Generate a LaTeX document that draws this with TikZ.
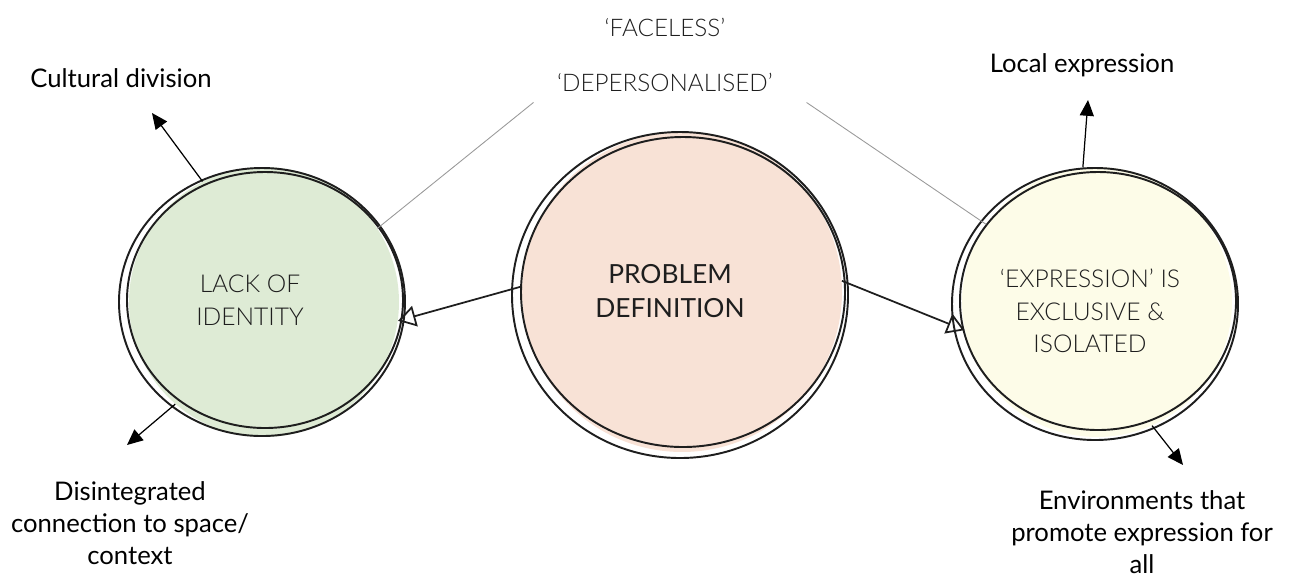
\documentclass[tikz,border=0pt]{standalone}
\usepackage{fontspec}
\setmainfont{Lato}
\newfontfamily\thinfont{Lato Light}[Ligatures=TeX]
\usetikzlibrary{arrows.meta}
\definecolor{leafgreen}{RGB}{222,235,213}
\definecolor{peach}{RGB}{248,226,214}
\definecolor{cream}{RGB}{253,252,232}
\definecolor{ink}{RGB}{30,30,30}
\begin{document}
\begin{tikzpicture}[x=0.02cm, y=-0.02cm,
  bubble/.style={circle,draw=none,inner sep=0pt,align=center,text=ink,font=\thinfont\fontsize{14}{18.5}\selectfont},
  sketch/.style={line width=1.1pt,ink},
  link/.style={line width=1pt,ink,-{Triangle[open,length=10pt,width=12pt]}},
  callout/.style={line width=0.7pt,black,-{Triangle[length=9pt,width=8pt]}},
  note/.style={align=center,font=\fontsize{14.6}{18.3}\selectfont},
  tag/.style={text=ink,font=\thinfont\fontsize{13.8}{16}\selectfont},
  guide/.style={line width=0.5pt,gray!80}]
\useasboundingbox (0,0) rectangle (1290,579);
% the three bubbles
\node[bubble,fill=leafgreen,minimum size=5.4cm] (lack) at (264,302) {};
\node[bubble,fill=peach,minimum size=6.4cm] (prob) at (682,292) {};
\node[bubble,fill=cream,minimum size=5.4cm] (expr) at (1097,302) {};
% pencil outlines, two strokes each
\draw[sketch] (262,302) ellipse (143 and 134);
\draw[sketch] (265,300) ellipse (138 and 128);
\draw[sketch] (680,295) ellipse (168 and 163);
\draw[sketch] (683,292) ellipse (162 and 155);
\draw[sketch] (1095,304) ellipse (143 and 136);
\draw[sketch] (1098,301) ellipse (138 and 129);
% bubble texts
\node[bubble] (lackTxt) at (250,300) {LACK OF\\IDENTITY};
\node[bubble,font=\fontsize{15}{19}\selectfont] (probTxt) at (670,291) {PROBLEM\\DEFINITION};
\node[bubble] (exprTxt) at (1090,311) {‘EXPRESSION’ IS\\EXCLUSIVE \&\\ISOLATED};
% labels above
\node[tag] (face) at (665,27) {‘FACELESS’};
\node[tag] (dep) at (665,82) {‘DEPERSONALISED’};
\node[note] (cult) at (121,78) {Cultural division};
\node[note] (local) at (1082,65) {Local expression};
\node[note] (dis) at (130,523) {Disintegrated\\connection to space/\\context};
\node[note] (env) at (1142,532) {Environments that\\promote expression for\\all};
% tips of the callout arrows
\coordinate (cultTip) at (152,113);
\coordinate (localTip) at (1088,100);
\coordinate (disTip) at (127,445);
\coordinate (envTip) at (1183,465);
% thin guide lines
\draw[guide] ([xshift=-0.35cm,yshift=-0.1cm]dep.south west) -- (lack.33);
\draw[guide] ([xshift=0.55cm,yshift=-0.1cm]dep.south east) -- (expr.145);
% links out of the middle bubble
\draw[link] (prob.178) -- (lack.-8);
\draw[link] (prob.4) -- (expr.192);
% callouts
\draw[callout] (lack.117) -- (cultTip);
\draw[callout] (lack.229) -- (disTip);
\draw[callout] (expr.96) -- (localTip);
\draw[callout] (expr.294) -- (envTip);
\end{tikzpicture}
\end{document}
